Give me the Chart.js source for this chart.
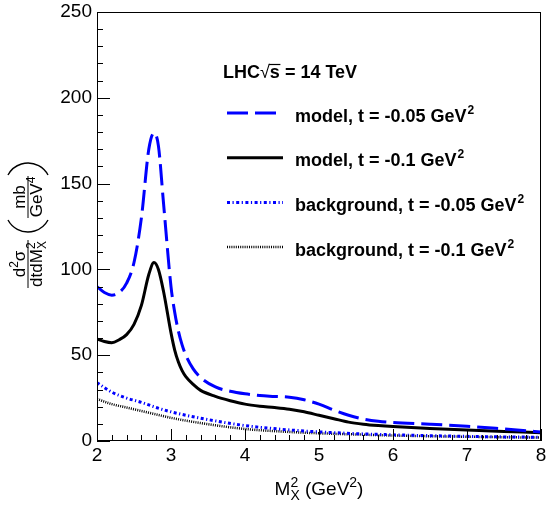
<!DOCTYPE html>
<html><head><meta charset="utf-8">
<script src="https://cdn.jsdelivr.net/npm/chart.js@4.4.0/dist/chart.umd.min.js"></script>
<style>html,body{margin:0;padding:0;background:#fff;}#wrap{width:547px;height:507px;}</style>
</head><body><div id="wrap"><canvas id="c" width="547" height="507"></canvas></div>
<script>
const xTickLabels = [2,3,4,5,6,7,8];
const yTickLabels = [0,50,100,150,200,250];
const modelX = [2.0,2.1,2.2,2.3,2.4,2.5,2.6,2.7,2.77,2.83,2.9,3.0,3.05,3.1,3.15,3.2,3.3,3.4,3.6,3.8,4.0,4.2,4.4,4.6,4.8,5.0,5.2,5.4,5.6,5.8,6.0,6.5,7.0,7.5,8.0];
const modelT005 = [90,86.5,85,86.5,92,104,130,170,179.5,172,138,90,75,64,56,50,42,37,31.5,29,27.5,26.5,26,25.5,24,21.5,18,15,12.8,11.5,10.8,9.8,8.6,7.0,5.3];
const modelT01 = [59.5,58,57.3,59,62,68,79,97,104,100,87,63,53,46,41,37.5,33,29.5,26,23.5,21.5,20.3,19.5,18.5,17,15,13,11,9.8,9,8.4,7.3,6.4,5.6,4.8];
const bgX = [2.0,2.2,2.4,2.6,2.8,3.0,3.5,4.0,4.5,5.0,5.5,6.0,6.5,7.0,7.5,8.0];
const bgT005 = [34,28.5,25,22.5,19.5,17,12.5,9,6.8,5.3,4.3,3.6,3.1,2.7,2.4,2.2];
const bgT01 = [24.5,21.5,19.5,17.5,15.5,13.5,9.8,7,5.5,4.5,3.8,3.2,2.8,2.5,2.2,2.0];
const seriesLabels = ['model, t = -0.05 GeV','model, t = -0.1 GeV','background, t = -0.05 GeV','background, t = -0.1 GeV'];

const FONT = '"Liberation Sans", Arial, Helvetica, sans-serif';
const BLUE = '#0000ff';
const styles = [
  {color:BLUE, width:3, dash:[21,7]},
  {color:'#000', width:3, dash:[]},
  {color:BLUE, width:3, dash:[3,2.5,1.2,2.5]},
  {color:'#000', width:2.5, dash:[1,1.2]}
];
function pts(xs, ys){ return xs.map((x,i)=>({x:x, y:ys[i]})); }

function drawRich(ctx, parts, x, y, align){
  let cursor = 0, prevStart = 0; const items = [];
  for (const p of parts){
    ctx.font = (p.bold?'bold ':'') + p.size + 'px ' + FONT;
    const w = ctx.measureText(p.t).width;
    let start;
    if (p.stack){ start = prevStart; cursor = Math.max(cursor, start + w); }
    else { start = cursor + (p.dx||0); cursor = start + w; }
    items.push({p:p, start:start, w:w}); prevStart = start;
  }
  const x0 = align==='center' ? x - cursor/2 : (align==='right' ? x - cursor : x);
  for (const it of items){
    ctx.font = (it.p.bold?'bold ':'') + it.p.size + 'px ' + FONT;
    ctx.fillText(it.p.t, x0 + it.start, y + (it.p.dy||0));
    it.x = x0 + it.start;
  }
  return items;
}

const decor = {
  id:'decor',
  afterDraw(chart){
    const ctx = chart.ctx, a = chart.chartArea;
    const xs = chart.scales.x, ys = chart.scales.y;
    ctx.save();
    ctx.strokeStyle = '#000'; ctx.lineWidth = 1; ctx.setLineDash([]);
    ctx.strokeRect(a.left + 0.5, a.top + 0.5, a.right - a.left - 1, a.bottom - a.top - 1);
    ctx.beginPath();
    for (let v = 0; v <= 250.001; v += 10){
      const py = Math.round(ys.getPixelForValue(v)) + 0.5;
      const len = (Math.round(v) % 50 === 0) ? 13 : 6;
      ctx.moveTo(a.left, py); ctx.lineTo(a.left + len, py);
    }
    for (let i = 0; i <= 30; i++){
      const v = 2 + i*0.2;
      const px = Math.round(xs.getPixelForValue(v)) + 0.5;
      const len = (i % 5 === 0) ? 12 : 6;
      ctx.moveTo(px, a.bottom); ctx.lineTo(px, a.bottom - len);
    }
    ctx.stroke();

    ctx.fillStyle = '#000'; ctx.textBaseline = 'alphabetic';
    drawRich(ctx, [
      {t:'M', size:19}, {t:'2', size:14, dy:-8}, {t:'X', size:14, dy:5, stack:true},
      {t:' (GeV', size:19}, {t:'2', size:14, dy:-8}, {t:')', size:19}
    ], (a.left + a.right)/2, 495, 'center');

    ctx.save();
    ctx.translate(28, 264); ctx.rotate(-Math.PI/2);
    drawRich(ctx, [{t:'d', size:17}, {t:'2', size:12, dy:-7}, {t:'σ', size:17}], 0, -3, 'center');
    drawRich(ctx, [{t:'dtdM', size:17}, {t:'2', size:12, dy:-7}, {t:'X', size:12, dy:4, stack:true}], 0, 14, 'center');
    ctx.beginPath(); ctx.lineWidth = 1; ctx.moveTo(-24, 0); ctx.lineTo(24, 0); ctx.stroke();
    ctx.restore();

    ctx.save();
    ctx.translate(28, 197); ctx.rotate(-Math.PI/2);
    drawRich(ctx, [{t:'mb', size:17}], 0, -3, 'center');
    drawRich(ctx, [{t:'GeV', size:17}, {t:'4', size:12, dy:-7}], 0, 14, 'center');
    ctx.beginPath(); ctx.lineWidth = 1; ctx.moveTo(-21, 0); ctx.lineTo(21, 0); ctx.stroke();
    const r = (400 + 144) / 24;
    ctx.lineWidth = 1.4;
    ctx.beginPath(); ctx.arc(-35 + r, 0, r, Math.PI - Math.atan2(20, r - 12), Math.PI + Math.atan2(20, r - 12)); ctx.stroke();
    ctx.beginPath(); ctx.arc(34 - r, 0, r, -Math.atan2(20, r - 12), Math.atan2(20, r - 12)); ctx.stroke();
    ctx.restore();

    const hdr = drawRich(ctx, [
      {t:'LHC', size:18, bold:true}, {t:'√', size:18}, {t:'s', size:18, bold:true}, {t:' = 14 TeV', size:18, bold:true}
    ], 223, 78, 'left');
    ctx.beginPath(); ctx.lineWidth = 1.2;
    ctx.moveTo(hdr[1].x + hdr[1].w - 1, 64.5); ctx.lineTo(hdr[2].x + hdr[2].w + 0.5, 64.5); ctx.stroke();

    for (let i = 0; i < seriesLabels.length; i++){
      const ly = 113 + 44.7*i;
      const st = styles[i];
      ctx.beginPath(); ctx.strokeStyle = st.color; ctx.lineWidth = st.width; ctx.setLineDash(st.dash);
      ctx.moveTo(227, ly); ctx.lineTo(283, ly); ctx.stroke();
      ctx.setLineDash([]); ctx.strokeStyle = '#000';
      drawRich(ctx, [{t:seriesLabels[i], size:18, bold:true}, {t:'2', size:12, bold:true, dy:-8, dx:1}], 295, ly + 8.5, 'left');
    }
    ctx.restore();
  }
};

const datasets = [
  {label:seriesLabels[0], data:pts(modelX, modelT005)},
  {label:seriesLabels[1], data:pts(modelX, modelT01)},
  {label:seriesLabels[2], data:pts(bgX, bgT005)},
  {label:seriesLabels[3], data:pts(bgX, bgT01)}
].map((d,i)=>Object.assign(d, {
  borderColor:styles[i].color, borderWidth:styles[i].width, borderDash:styles[i].dash,
  pointRadius:0, fill:false, cubicInterpolationMode:'monotone', order:i
}));

new Chart(document.getElementById('c'), {
  type:'line',
  data:{datasets:datasets},
  options:{
    responsive:false, animation:false, events:[],
    layout:{padding:{left:0, right:6, top:12, bottom:0}},
    plugins:{legend:{display:false}, tooltip:{enabled:false}},
    scales:{
      x:{type:'linear', min:2, max:8,
        afterBuildTicks:s=>{ s.ticks = xTickLabels.map(v=>({value:v})); },
        afterFit:s=>{ s.height = 66; },
        grid:{display:false, drawTicks:false, tickLength:0}, border:{display:false},
        ticks:{font:{family:FONT, size:19, lineHeight:1.55}, color:'#000', padding:0, maxRotation:0, autoSkip:false}},
      y:{type:'linear', min:0, max:250,
        afterBuildTicks:s=>{ s.ticks = yTickLabels.map(v=>({value:v})); },
        afterFit:s=>{ s.width = 97; },
        grid:{display:false, drawTicks:false, tickLength:0}, border:{display:false},
        ticks:{font:{family:FONT, size:19, lineHeight:0.7}, color:'#000', padding:5, autoSkip:false}}
    }
  },
  plugins:[decor]
});
</script></body></html>
